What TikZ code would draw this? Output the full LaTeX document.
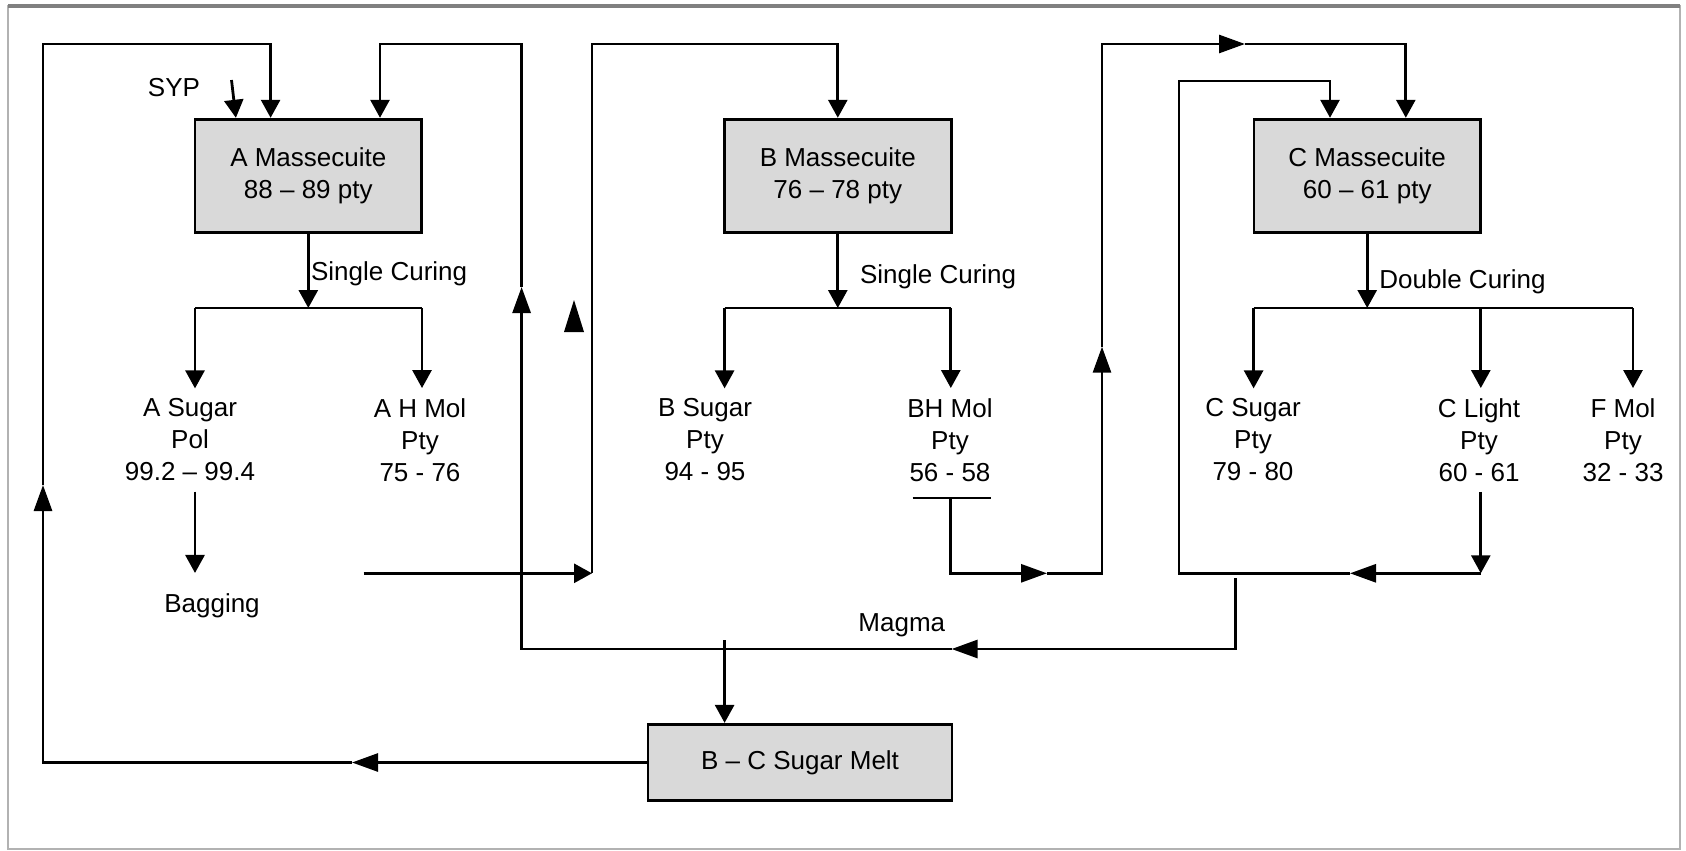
\documentclass[tikz,border=0pt]{standalone}
\usepackage{fontspec}
\setmainfont{Liberation Sans}
\usetikzlibrary{arrows.meta}
\tikzset{
    base/.style={draw, rectangle, line width=1.4pt, fill=gray!30, minimum width=113.3pt, minimum height=56.8pt, align=center, font=\fontsize{13}{16}\selectfont},
    lbl/.style={align=center, inner sep=5pt, font=\fontsize{13}{16}\selectfont},
    line/.style={line width=1.4pt},
    arrow/.style={line width=1.4pt, -{Triangle[length=9pt, width=9.5pt]}},
    midarrow/.style={line width=1.4pt, -{Triangle[length=13pt, width=9pt]}}
}

\begin{document}
\begin{tikzpicture}[x=0.5pt, y=-0.5pt]
\useasboundingbox (0,0) rectangle (1686,851);
\draw[gray!60, line width=0.8pt] (8,6) rectangle (1680,849);
\draw[gray, line width=1.6pt] (8,6) -- (1680,6);

% pans
\node[base] (amass) at (308.3,176) {A Massecuite\\88 – 89 pty};
\node[base] (bmass) at (837.8,176) {B Massecuite\\76 – 78 pty};
\node[base] (cmass) at (1367.2,176) {C Massecuite\\60 – 61 pty};
\node[base, minimum width=152pt, minimum height=38.2pt] (melt) at (800,762.5) {B – C Sugar Melt};

% products
\node[lbl] (asugar) at (190,440) {A Sugar\\Pol\\99.2 – 99.4};
\node[lbl] (ahmol) at (420,440) {A H Mol\\Pty\\75 - 76};
\node[lbl] (bsugar) at (705,440) {B Sugar\\Pty\\94 - 95};
\node[lbl] (bhmol) at (950,440) {BH Mol\\Pty\\56 - 58};
\node[lbl] (csugar) at (1253,440) {C Sugar\\Pty\\79 - 80};
\node[lbl] (clight) at (1479,440) {C Light\\Pty\\60 - 61};
\node[lbl] (fmol) at (1623,440) {F Mol\\Pty\\32 - 33};
\node[lbl] (bagging) at (212,605.5) {Bagging};
\node[lbl] (syp) at (174,88) {SYP};
\node[lbl, anchor=west] (acure) at (300.7,274) {Single Curing};
\node[lbl, anchor=west] (bcure) at (849.7,277) {Single Curing};
\node[lbl, anchor=west] (ccure) at (1369,282) {Double Curing};
\node[lbl] (magma) at (901.8,625) {Magma};

% curing branches
\coordinate (ajoin) at (308.3,308);
\coordinate (al) at (195,308);
\coordinate (ar) at (422,308);
\coordinate (bjoin) at (837.8,308);
\coordinate (bl) at (724.6,308);
\coordinate (br) at (950.8,308);
\coordinate (cjoin) at (1367.2,308);
\coordinate (cl) at (1253.6,308);
\coordinate (cm) at (1480.8,308);
\coordinate (cr) at (1633,308);

\draw[arrow] (amass) -- (ajoin);
\draw[line] (al) -- (ar);
\draw[arrow] (al) -- (al |- asugar.north);
\draw[arrow] (ar) -- (ar |- ahmol.north);
\draw[arrow] (bmass) -- (bjoin);
\draw[line] (bl) -- (br);
\draw[arrow] (bl) -- (bl |- bsugar.north);
\draw[arrow] (br) -- (br |- bhmol.north);
\draw[arrow] (cmass) -- (cjoin);
\draw[line] (cl) -- (cr);
\draw[arrow] (cl) -- (cl |- csugar.north);
\draw[arrow] (cm) -- (cm |- clight.north);
\draw[arrow] (cr) -- (cr |- fmol.north);

\draw[arrow, shorten >=5pt] (asugar.south -| al) -- (al |- bagging.north);

% top returns
\coordinate (t1) at (43,44);
\coordinate (t2) at (270.6,44);
\coordinate (t3) at (380,44);
\coordinate (t4) at (521.6,44);
\coordinate (t5) at (592,44);
\coordinate (t6) at (837.8,44);
\coordinate (t7) at (1102,44);
\coordinate (t8) at (1405.8,44);
\coordinate (u1) at (1179,81);
\coordinate (u2) at (1330,81);

% syrup feed
\coordinate (sypin) at (231.5,80);
\draw[arrow] (sypin) -- ([xshift=-36.2pt]amass.north);

% melt back to A
\coordinate (b1) at (43,762.5);
\coordinate (m1) at (352,762.5);
\coordinate (m2) at (43,485);
\draw[midarrow] (melt.west) -- (m1);
\draw[midarrow] (m1) -- (b1) -- (m2);
\draw[arrow] (m2) -- (t1) -- (t2) -- (amass.north -| t2);

% magma
\coordinate (mg0) at (1235.4,578);
\coordinate (mg1) at (1235.4,649);
\coordinate (mgtip) at (951.6,649);
\coordinate (mgdrop) at (724.6,649);
\coordinate (mg2) at (521.6,649);
\coordinate (mgup) at (521.6,287);
\draw[midarrow] (mg0) -- (mg1) -- (mgtip);
\draw[midarrow] (mgtip) -- (mg2) -- (mgup);
\draw[arrow] (mgup) -- (t4) -- (t3) -- (amass.north -| t3);
\draw[arrow] ([yshift=4.5pt]mgdrop) -- (melt.north -| mgdrop);

% A heavy to B
\coordinate (ah0) at (363.6,573.3);
\coordinate (ah1) at (592,573.3);
\draw[arrow] (ah0) -- (ah1);
\draw[arrow] (ah1) -- (t5) -- (t6) -- (bmass);
\fill (574,300) -- (564,332) -- (584,332) -- cycle;

% BH mol to C
\coordinate (bar1) at (912.5,498);
\coordinate (bar2) at (990.6,498);
\coordinate (bh0) at (950.8,498);
\coordinate (bh1) at (950.8,573.3);
\coordinate (bhtip) at (1047,573.3);
\coordinate (bh2) at (1102,573.3);
\coordinate (bhup) at (1102,346.7);
\coordinate (bhtop) at (1245,44);
\draw[line] (bar1) -- (bar2);
\draw[midarrow] (bh0) -- (bh1) -- (bhtip);
\draw[midarrow] (bhtip) -- (bh2) -- (bhup);
\draw[midarrow] (bhup) -- (t7) -- (bhtop);
\draw[arrow] (bhtop) -- (t8) -- (cmass.north -| t8);

% C light back to C
\coordinate (cl1) at (1480.8,573.3);
\coordinate (cltip) at (1350,573.3);
\coordinate (cl2) at (1179,573.3);
\draw[arrow] (clight.south -| cm) -- (cl1);
\draw[midarrow] (cl1) -- (cltip);
\draw[arrow] (cltip) -- (cl2) -- (u1) -- (u2) -- (cmass.north -| u2);
\end{tikzpicture}
\end{document}
